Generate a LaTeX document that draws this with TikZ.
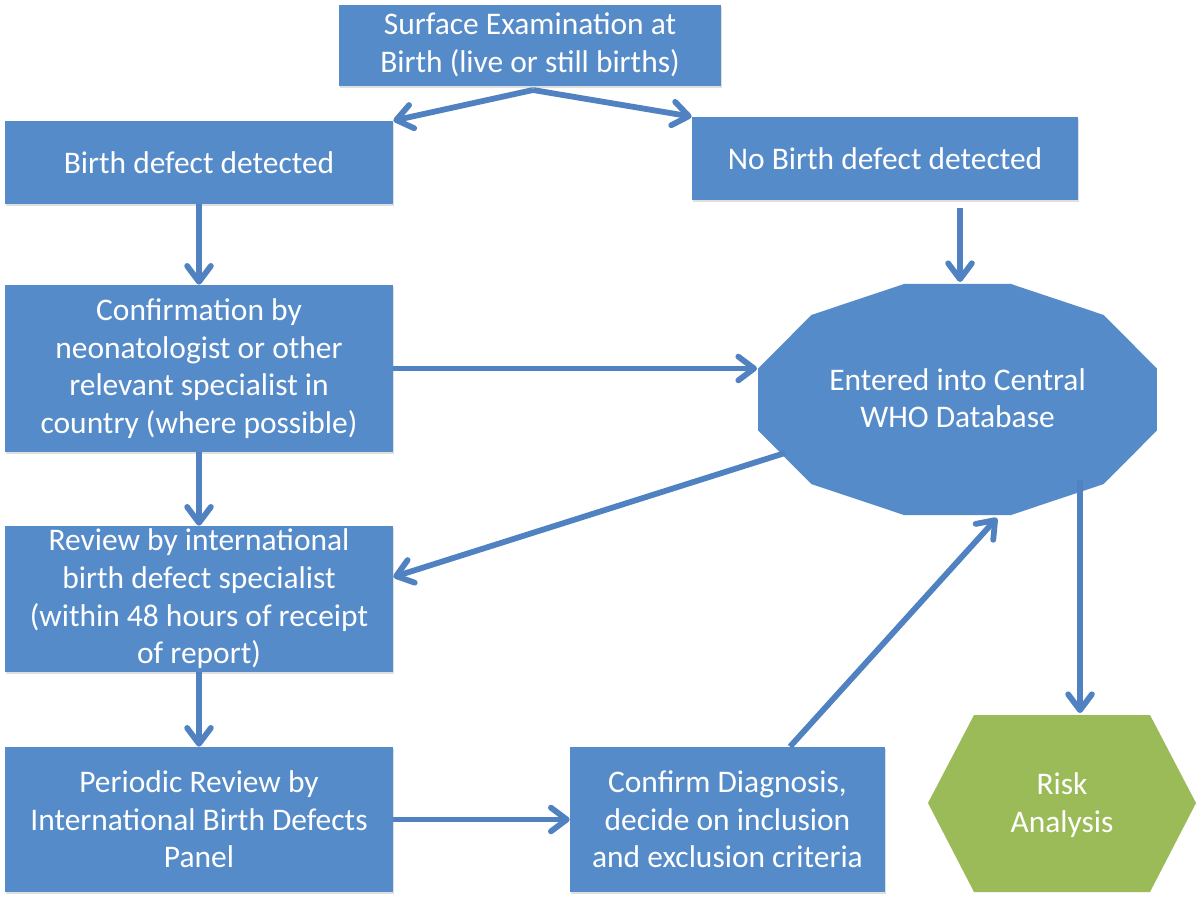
\documentclass[tikz,border=0pt]{standalone}
\usepackage{fontspec}
\setmainfont{Carlito}
\usetikzlibrary{arrows.meta, shadows}

\definecolor{BoxBlue}{RGB}{86,139,202}
\definecolor{ArrowBlue}{RGB}{80,130,193}
\definecolor{RiskGreen}{RGB}{155,187,89}

\tikzset{
  box/.style={rectangle, fill=BoxBlue, text=white, align=center, inner sep=0pt,
    minimum width=77.6mm, font=\fontsize{17.9}{21.4}\selectfont,
    drop shadow={opacity=0.25, shadow xshift=0.5pt, shadow yshift=-1.2pt}},
  flow/.style={draw=ArrowBlue, line width=3.3pt,
    -{Straight Barb[length=9pt, width=13.5pt, line cap=round, line join=round]}}
}

\begin{document}
\begin{tikzpicture}[x=0.2mm, y=-0.2mm]
\useasboundingbox (0,0) rectangle (1200,900);

% boxes
\node [box, minimum width=76.4mm, minimum height=16.2mm] (surf) at (530,45)
      {Surface Examination at\\Birth (live or still births)};
\node [box, minimum height=16.6mm] (bdd) at (199,162.5) {Birth defect detected};
\node [box, minimum width=77.2mm, minimum height=16.6mm] (nbd) at (885,158.5) {No Birth defect detected};
\node [box, minimum height=33.4mm] (conf) at (199,368.5)
      {Confirmation by\\neonatologist or other\\relevant specialist in\\country (where possible)};
\node [box, minimum height=29.2mm] (rev) at (199,599)
      {Review by international\\birth defect specialist\\(within 48 hours of receipt\\of report)};
\node [box, minimum height=29mm] (per) at (199,819.5)
      {Periodic Review by\\International Birth Defects\\Panel};
\node [box, minimum width=63mm, minimum height=29mm] (diag) at (727.5,819.5)
      {Confirm Diagnosis,\\decide on inclusion\\and exclusion criteria};

% database (12 sides)
\fill [BoxBlue] plot [samples at={15,45,...,345}]
      ({957.5+206.5*cos(\x)}, {399.5-119.6*sin(\x)}) -- cycle;
\node [text=white, align=center, font=\fontsize{17.9}{21.4}\selectfont] (db) at (957.5,398)
      {Entered into Central\\WHO Database};

% risk analysis
\fill [RiskGreen] (974,715) -- (1150,715) -- (1196,803) -- (1150,892) -- (974,892) -- (928,803) -- cycle;
\node [text=white, align=center, font=\fontsize{17.9}{21.4}\selectfont] (risk) at (1062,805) {Risk\\Analysis};

\coordinate (split) at (533,90);
\coordinate (db-n) at (960,282);
\coordinate (db-w) at (757,368.5);
\coordinate (db-sw) at (785,453);
\coordinate (db-s) at (997,518);
\coordinate (db-se) at (1080,480);
\coordinate (risk-n) at (1080,713);

% connectors
\draw [flow] (split) -- (bdd.north east);
\draw [flow] (split) -- (nbd.north west);
\draw [flow] (bdd) -- (conf);
\draw [flow, shorten <=1.5mm] (nbd.south -| db-n) -- (db-n);
\draw [flow] (conf.east) -- (db-w);
\draw [flow] (conf) -- (rev);
\draw [flow] (db-sw) -- ([yshift=4.4mm]rev.east);
\draw [flow] (rev) -- (per);
\draw [flow] (per) -- (diag);
\draw [flow] ([xshift=12.5mm]diag.north) -- (db-s);
\draw [flow] (db-se) -- (risk-n);

\end{tikzpicture}
\end{document}
